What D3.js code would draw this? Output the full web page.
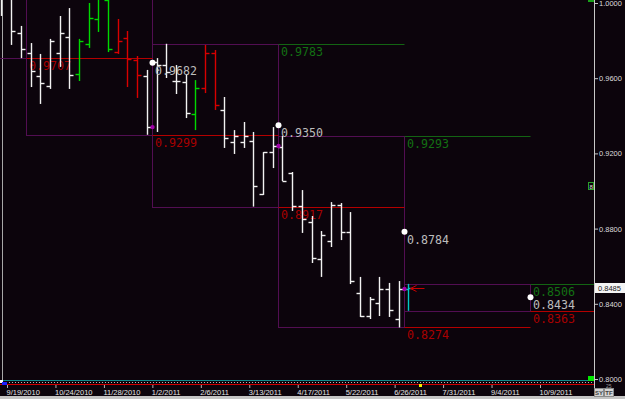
<!DOCTYPE html>
<html>
<meta charset="utf-8">
<head>
<title>Weekly bars with quarterly ranges</title>
<script src="https://cdnjs.cloudflare.com/ajax/libs/d3/7.8.5/d3.min.js"></script>
<style>
  body { margin: 0; background: #0c040c; }
  svg { display: block; }
</style>
</head>
<body>
<script>

const width = 625,
    height = 399;
const plotRight = 594,
    plotBottom = 381;

// Weekly bars, the first one is the week of 2010-09-15
const firstBar = "2010-09-15";
const opens = [1.0043, 1.0050, 0.9840, 0.9734, 0.9612, 0.9559, 0.9734, 0.9819, 0.9622, 0.9782,
    0.9915, 1.0016, 0.9739, 0.9814, 0.9697, 0.9612, 0.9686, 0.9670, 0.9585, 0.9580,
    0.9410, 0.9548, 0.9734, 0.9431, 0.9261, 0.9261, 0.9266, 0.8984, 0.9207, 0.9234,
    0.9096, 0.8920, 0.8835, 0.8638, 0.8734, 0.8926, 0.8782, 0.8457, 0.8335, 0.8404,
    0.8479, 0.8319, 0.8479];
const highs = [1.0069, 1.0120, 0.9878, 0.9787, 0.9729, 0.9809, 0.9931, 0.9973, 0.9809, 1.0000,
    1.0065, 1.0043, 0.9915, 0.9851, 0.9718, 0.9644, 0.9707, 0.9783, 0.9670, 0.9617,
    0.9590, 0.9777, 0.9750, 0.9500, 0.9324, 0.9367, 0.9314, 0.9207, 0.9340, 0.9293,
    0.9101, 0.9005, 0.8867, 0.8787, 0.8941, 0.8936, 0.8888, 0.8543, 0.8436, 0.8543,
    0.8511, 0.8521, 0.8506];
const lows = [0.9931, 0.9777, 0.9707, 0.9553, 0.9463, 0.9543, 0.9660, 0.9543, 0.9585, 0.9761,
    0.9846, 0.9739, 0.9729, 0.9553, 0.9495, 0.9299, 0.9314, 0.9601, 0.9516, 0.9388,
    0.9324, 0.9521, 0.9431, 0.9229, 0.9197, 0.9229, 0.8917, 0.8979, 0.9122, 0.9053,
    0.8894, 0.8777, 0.8617, 0.8543, 0.8702, 0.8739, 0.8505, 0.8330, 0.8319, 0.8335,
    0.8330, 0.82742, 0.83628];
const closes = [1.0032, 0.9851, 0.9755, 0.9638, 0.9574, 0.9798, 0.9840, 0.9617, 0.9798, 0.9920,
    1.0030, 0.9755, 0.9798, 0.9702, 0.9617, 0.9340, 0.9670, 0.9633, 0.9585, 0.9415,
    0.9548, 0.9734, 0.9457, 0.9282, 0.9293, 0.9293, 0.9027, 0.9207, 0.9239, 0.9053,
    0.8920, 0.8851, 0.8644, 0.8766, 0.8926, 0.8782, 0.8521, 0.8335, 0.8426, 0.8479,
    0.8367, 0.8479, 0.8485];
// trend colour of each bar: w = neutral, g = up, r = down, c = current
const barTrend = ["w", "w", "w", "w", "w", "w", "w", "w", "g", "g",
    "g", "g", "r", "r", "r", "w", "w", "w", "w", "w",
    "g", "r", "r", "w", "w", "w", "w", "w", "w", "w",
    "w", "w", "w", "w", "w", "w", "w", "w", "w", "w",
    "w", "w", "c"];

// index of the first weekly bar of each quarter
const quarterStarts = [-10, 3, 16, 29, 42, 55, 68];

const dateTicks = ["2010-09-19", "2010-10-24", "2010-11-28", "2011-01-02", "2011-02-06", "2011-03-13",
    "2011-04-17", "2011-05-22", "2011-06-26", "2011-07-31", "2011-09-04", "2011-10-09"];
const priceTicks = [0.80, 0.84, 0.88, 0.92, 0.96, 1.00];
const lastPrice = 0.8485;

const trendColour = { w: "#f2f2f2", g: "#00d800", r: "#d80000", c: "#00c8c8" };

const svg = d3.select("body")
    .append("svg")
    .attr("width", width)
    .attr("height", height);

svg.append("rect")
    .attr("width", width)
    .attr("height", height)
    .attr("fill", "#0c040c");

const x = d3.scaleUtc()
    .domain([new Date(dateTicks[0]), new Date(dateTicks[dateTicks.length - 1])])
    .range([7, 540]);
const y = d3.scaleLinear()
    .domain([0.8, 1.0])
    .range([379, 3]);

const barDate = i => d3.utcDay.offset(new Date(firstBar), 7 * i);
const barX = i => Math.round(x(barDate(i))) + 0.5;
// quarter edges sit half a week before the first bar
const edgeX = i => Math.round(x(d3.utcHour.offset(barDate(i), -84))) + 0.5;

const bars = opens.map((o, i) => ({
    i: i, open: o, high: highs[i], low: lows[i], close: closes[i], trend: barTrend[i]
}));

svg.append("clipPath")
    .attr("id", "plot")
    .append("rect")
    .attr("width", plotRight)
    .attr("height", plotBottom);

const plot = svg.append("g").attr("clip-path", "url(#plot)");

// left border line
plot.append("line")
    .attr("x1", 2.5).attr("x2", 2.5)
    .attr("y1", 0).attr("y2", plotBottom)
    .attr("stroke", "#a8a8a8");

// Quarterly ranges
const boxes = [];
for (let k = 0; k < quarterStarts.length - 2; k++) {
    const members = bars.filter(b => b.i >= quarterStarts[k] && b.i < quarterStarts[k + 1]);
    if (!members.length) continue;
    const hi = d3.max(members, b => b.high),
        lo = d3.min(members, b => b.low);
    boxes.push({
        k: k,
        x0: edgeX(quarterStarts[k]),
        x1: edgeX(quarterStarts[k + 1]),
        x2: edgeX(quarterStarts[k + 2]),
        high: hi,
        low: lo,
        mid: (hi + lo) / 2,
        last: members[members.length - 1].close,
        complete: members.length === quarterStarts[k + 1] - quarterStarts[k]
    });
}

plot.selectAll("rect.box")
    .data(boxes)
    .enter()
    .append("rect")
    .attr("class", "box")
    .attr("x", d => d.x0)
    .attr("y", d => Math.round(y(d.high)) + 0.5)
    .attr("width", d => d.x1 - d.x0)
    .attr("height", d => Math.round(y(d.low)) - Math.round(y(d.high)))
    .attr("fill", "none")
    .attr("stroke", "#520e52");

// previous quarter high / low carried into the next quarter
plot.selectAll("line.prevHigh")
    .data(boxes)
    .enter()
    .append("line")
    .attr("x1", d => d.x1).attr("x2", d => d.x2)
    .attr("y1", d => Math.round(y(d.high)) + 0.5)
    .attr("y2", d => Math.round(y(d.high)) + 0.5)
    .attr("stroke", "#136413");
plot.selectAll("line.prevLow")
    .data(boxes)
    .enter()
    .append("line")
    .attr("x1", d => d.x1).attr("x2", d => d.x2)
    .attr("y1", d => Math.round(y(d.low)) + 0.5)
    .attr("y2", d => Math.round(y(d.low)) + 0.5)
    .attr("stroke", "#b40000");

const fmt = d3.format(".4f");
const inView = v => y(v) > 0 && y(v) < plotBottom;

function levelLabel(data, value, colour) {
    plot.selectAll(null)
        .data(data.filter(d => inView(value(d))))
        .enter()
        .append("text")
        .attr("x", d => d.x1 + 2.5)
        .attr("y", d => y(value(d)) + 12)
        .attr("textLength", 42)
        .attr("lengthAdjust", "spacingAndGlyphs")
        .text(d => fmt(value(d)))
        .attr("font-family", "DejaVu Sans Mono")
        .attr("font-size", "12px")
        .attr("fill", colour);
}
levelLabel(boxes, d => d.high, "#137013");
levelLabel(boxes, d => d.low, "#a80000");

// Bars
const barG = plot.selectAll("g.bar")
    .data(bars)
    .enter()
    .append("g")
    .attr("stroke", d => trendColour[d.trend])
    .attr("stroke-width", 1.4);
barG.append("line")
    .attr("x1", d => barX(d.i)).attr("x2", d => barX(d.i))
    .attr("y1", d => y(d.high)).attr("y2", d => y(d.low));
barG.append("line")
    .attr("x1", d => barX(d.i) - 4).attr("x2", d => barX(d.i))
    .attr("y1", d => Math.round(y(d.open)) + 0.5)
    .attr("y2", d => Math.round(y(d.open)) + 0.5);
barG.append("line")
    .attr("x1", d => barX(d.i)).attr("x2", d => barX(d.i) + 4)
    .attr("y1", d => Math.round(y(d.close)) + 0.5)
    .attr("y2", d => Math.round(y(d.close)) + 0.5);

// last close of each finished quarter
plot.selectAll("circle.lastClose")
    .data(boxes.filter(d => d.complete))
    .enter()
    .append("circle")
    .attr("cx", d => d.x1)
    .attr("cy", d => y(d.last))
    .attr("r", 2.2)
    .attr("fill", "#a000a8");

// mid point of each quarter range
const mids = boxes.filter(d => d.k > 0);
plot.selectAll("circle.mid")
    .data(mids)
    .enter()
    .append("circle")
    .attr("cx", d => d.x1)
    .attr("cy", d => y(d.mid))
    .attr("r", 3)
    .attr("fill", "#ffffff");
levelLabel(mids, d => d.mid, "#bcbcbc");

// arrow at the current price
const ay = Math.round(y(lastPrice)) + 0.5,
    ax = barX(bars.length - 1) + 2;
plot.append("path")
    .attr("d", `M${ax + 14},${ay}H${ax}M${ax + 6},${ay - 3}L${ax},${ay}L${ax + 6},${ay + 3}`)
    .attr("fill", "none")
    .attr("stroke", "#c80000");

// Price axis
svg.append("line")
    .attr("x1", plotRight + 0.5).attr("x2", plotRight + 0.5)
    .attr("y1", 0).attr("y2", 388)
    .attr("stroke", "#c8c8c8");
const yAxis = svg.append("g")
    .attr("transform", `translate(${plotRight},0)`)
    .call(d3.axisRight(y).tickValues(priceTicks).tickSize(4).tickFormat(fmt));
yAxis.select(".domain").remove();
yAxis.selectAll("line").attr("stroke", "#c8c8c8");
yAxis.selectAll("text")
    .attr("x", 5)
    .attr("fill", "#dcdcdc")
    .attr("font-family", "Liberation Sans")
    .attr("font-size", "7.5px");

// current price box
svg.append("rect")
    .attr("x", plotRight + 1).attr("y", Math.round(y(lastPrice)) - 5)
    .attr("width", 30).attr("height", 10)
    .attr("fill", "#f4f4f4");
svg.append("text")
    .attr("x", plotRight + 4).attr("y", y(lastPrice) + 3)
    .text(fmt(lastPrice))
    .attr("font-family", "Liberation Sans")
    .attr("font-size", "7.5px")
    .attr("fill", "#202020");

// small markers on the right edge
svg.append("rect")
    .attr("x", 588).attr("y", 0).attr("width", 6).attr("height", 2)
    .attr("fill", "#18a018");
svg.append("rect")
    .attr("x", 588.5).attr("y", 182.5).attr("width", 5).attr("height", 7)
    .attr("fill", "none").attr("stroke", "#2aa02a");
svg.append("text")
    .attr("x", 589.5).attr("y", 189)
    .text("8")
    .attr("font-family", "Liberation Sans")
    .attr("font-size", "6px")
    .attr("fill", "#e0e0e0");

// Bottom strip
svg.append("line")
    .attr("x1", 0).attr("x2", plotRight)
    .attr("y1", 380.5).attr("y2", 380.5)
    .attr("stroke", "#0e8c8c");
svg.append("line")
    .attr("x1", 0).attr("x2", plotRight)
    .attr("y1", 382.5).attr("y2", 382.5)
    .attr("stroke", "#b8b8b8")
    .attr("stroke-dasharray", "1,2");
svg.append("line")
    .attr("x1", 0).attr("x2", plotRight)
    .attr("y1", 384.5).attr("y2", 384.5)
    .attr("stroke", "#d00000");
svg.append("rect")
    .attr("x", 588).attr("y", 376).attr("width", 6).attr("height", 5)
    .attr("fill", "#00e800");
svg.append("rect")
    .attr("x", 0).attr("y", 380).attr("width", 3).attr("height", 3)
    .attr("fill", "#ffffff");
svg.append("rect")
    .attr("x", 2).attr("y", 382).attr("width", 5).attr("height", 3)
    .attr("fill", "#2020ff");
svg.append("rect")
    .attr("x", 419).attr("y", 384).attr("width", 3).attr("height", 3)
    .attr("fill", "#f0f000");
svg.append("text")
    .attr("x", 606).attr("y", 387.5)
    .text("25")
    .attr("font-family", "Liberation Sans")
    .attr("font-size", "5px")
    .attr("fill", "#9a9a9a");

// Date axis
const xAxis = svg.append("g")
    .attr("transform", "translate(0,385)")
    .call(d3.axisBottom(x)
        .tickValues(dateTicks.map(d => new Date(d)))
        .tickSize(3)
        .tickFormat(d3.utcFormat("%-m/%-d/%Y")));
xAxis.select(".domain").remove();
xAxis.selectAll("line").attr("stroke", "#b0b0b0");
xAxis.selectAll("text")
    .attr("y", 10)
    .attr("dy", 0)
    .attr("x", -1)
    .attr("text-anchor", "start")
    .attr("fill", "#e4e4e4")
    .attr("font-family", "Liberation Sans")
    .attr("font-size", "7.5px");

svg.append("rect")
    .attr("x", 0).attr("y", 396).attr("width", width).attr("height", 3)
    .attr("fill", "#c4c4c4");

// SY / TF buttons
["SY", "TF"].forEach((t, i) => {
    svg.append("rect")
        .attr("x", 594.5 + i * 10).attr("y", 388.5).attr("width", 9).attr("height", 8)
        .attr("fill", "#d4d4d4").attr("stroke", "#8a8a8a");
    svg.append("text")
        .attr("x", 599 + i * 10).attr("y", 395)
        .attr("text-anchor", "middle")
        .text(t)
        .attr("font-family", "Liberation Sans")
        .attr("font-size", "6px")
        .attr("font-weight", "bold")
        .attr("fill", "#404040");
});

</script>
</body>
</html>
